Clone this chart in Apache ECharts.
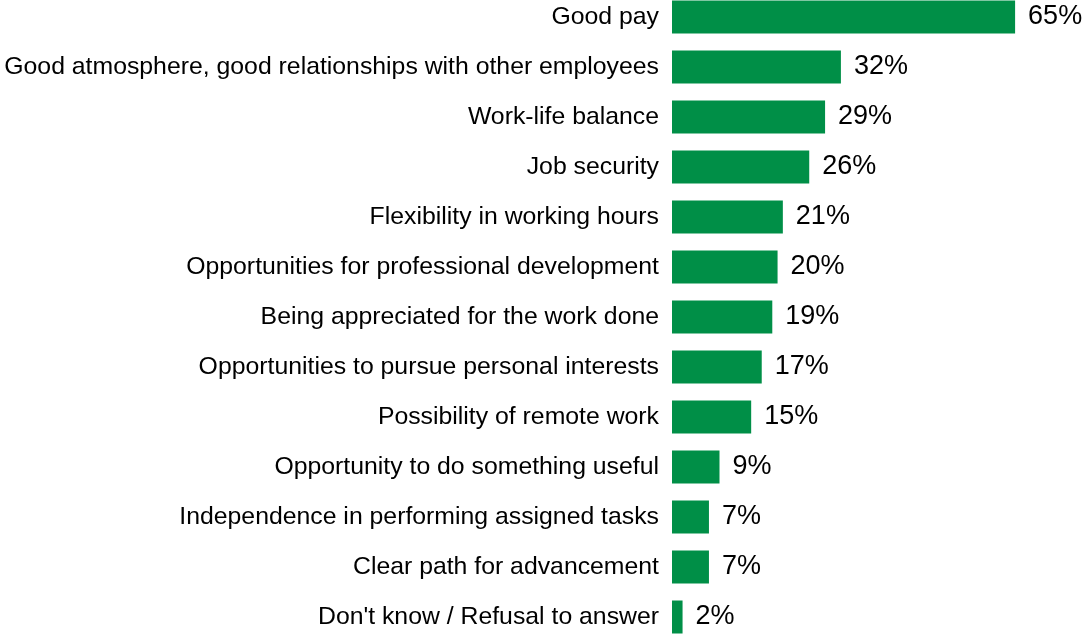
<!DOCTYPE html>
<html lang="en">
<head>
    <meta charset="utf-8">
    <script src="https://cdn.jsdelivr.net/npm/echarts@6/dist/echarts.min.js"></script>
    <style>
        html, body { margin: 0; padding: 0; background: #fff; overflow: hidden; }
        /* taller than the window so that each row gets 50px; shifted up a bit */
        #chart { position: absolute; left: 0; top: -8px; width: 1089px; height: 650px; }
    </style>
</head>
<body>
<div id="chart"></div>
<script>
    // categories, top to bottom
    var categories = [
        'Good pay',
        'Good atmosphere, good relationships with other employees',
        'Work-life balance',
        'Job security',
        'Flexibility in working hours',
        'Opportunities for professional development',
        'Being appreciated for the work done',
        'Opportunities to pursue personal interests',
        'Possibility of remote work',
        'Opportunity to do something useful',
        'Independence in performing assigned tasks',
        'Clear path for advancement',
        "Don't know / Refusal to answer"
    ];
    var values = [65, 32, 29, 26, 21, 20, 19, 17, 15, 9, 7, 7, 2];

    var chart = echarts.init(document.getElementById('chart'));
    chart.setOption({
        animation: false,
        grid: { left: 672, right: 0, top: 0, bottom: 0, containLabel: false, outerBoundsMode: 'none' },
        xAxis: {
            type: 'value',
            min: 0,
            max: 79,
            show: false
        },
        yAxis: {
            type: 'category',
            inverse: true,
            data: categories,
            axisLine: { show: false },
            axisTick: { show: false },
            axisLabel: {
                margin: 13,
                fontFamily: 'Liberation Sans, Arial, sans-serif',
                fontSize: 24.8,
                color: '#000'
            }
        },
        series: [{
            type: 'bar',
            data: values,
            barWidth: 33,
            itemStyle: { color: '#008f47' },
            label: {
                show: true,
                position: 'right',
                distance: 13,
                formatter: '{c}%',
                fontFamily: 'Liberation Sans, Arial, sans-serif',
                fontSize: 27,
                color: '#000'
            }
        }]
    });
</script>
</body>
</html>
